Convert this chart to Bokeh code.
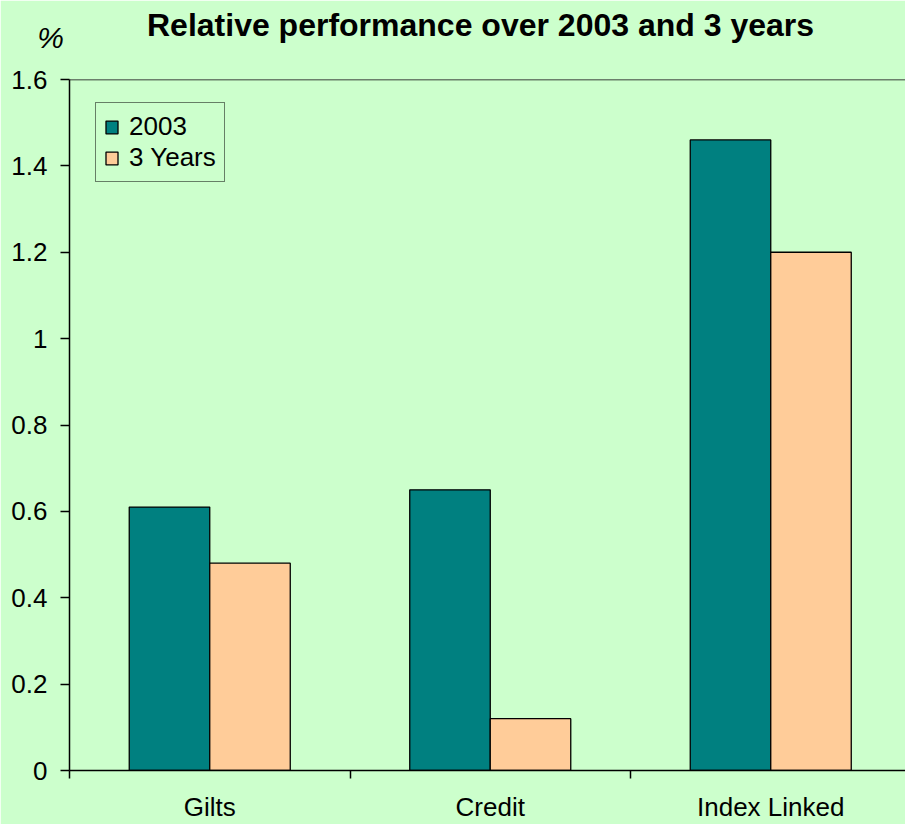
from bokeh.plotting import figure
from bokeh.models import (Range1d, FixedTicker, LinearAxis, Span, Label,
                          Legend, LegendItem, ColumnDataSource)
from bokeh.embed import file_html
from bokeh.resources import INLINE

# Data
categories = ["Gilts", "Credit", "Index Linked"]
perf_2003 = [0.61, 0.65, 1.46]
perf_3yr = [0.48, 0.12, 1.20]
series_names = ["2003", "3 Years"]
y_ticks = [0, 0.2, 0.4, 0.6, 0.8, 1.0, 1.2, 1.4, 1.6]
y_tick_labels = ["0", "0.2", "0.4", "0.6", "0.8", "1", "1.2", "1.4", "1.6"]

BG = "#CCFFCC"
TEAL = "#008080"
PEACH = "#FFCC99"
FONT = "Liberation Sans"

W, H = 905, 824
LEFT, TOP, BOTTOM = 69, 79, 53
cat_px = 280.5
x_end = (W - LEFT) / cat_px
px = 1.6 / (H - TOP - BOTTOM)

p = figure(width=W, height=H, output_backend="svg", toolbar_location=None,
           x_range=Range1d(0, x_end), y_range=Range1d(0, 1.6),
           min_border_left=LEFT, min_border_top=TOP, min_border_bottom=BOTTOM,
           min_border_right=0, background_fill_color=BG,
           border_fill_color=BG, outline_line_color=None)
p.xgrid.visible = False
p.ygrid.visible = False
p.xaxis.visible = False
p.yaxis.visible = False

centers = [i + 0.5 for i in range(len(categories))]
bounds = [float(i) for i in range(len(categories) + 1)]
bw = 0.287
src = ColumnDataSource(dict(
    x1=[c - bw / 2 for c in centers], x2=[c + bw / 2 for c in centers],
    a=perf_2003, b=perf_3yr))
r1 = p.vbar(x="x1", top="a", bottom=0, width=bw, source=src,
            fill_color=TEAL, line_color="black", line_width=1.3)
r2 = p.vbar(x="x2", top="b", bottom=0, width=bw, source=src,
            fill_color=PEACH, line_color="black", line_width=1.3)

# y axis
yax = LinearAxis(ticker=FixedTicker(ticks=y_ticks),
                 major_label_overrides={t: s for t, s in zip(y_ticks, y_tick_labels)},
                 major_tick_out=9, major_tick_in=0, minor_tick_out=0,
                 minor_tick_in=0, major_label_standoff=13,
                 axis_line_color="black", axis_line_width=1.5,
                 major_tick_line_width=1.5,
                 major_label_text_font=FONT,
                 major_label_text_font_size="26px",
                 major_label_text_color="black")
p.add_layout(yax, "left")

# x axis: names under the group centres, tick marks on the group boundaries
xax = LinearAxis(ticker=FixedTicker(ticks=centers, minor_ticks=bounds),
                 major_label_overrides={c: n for c, n in zip(centers, categories)},
                 major_tick_out=0, major_tick_in=0,
                 minor_tick_out=8, minor_tick_in=0,
                 minor_tick_line_color="black", minor_tick_line_width=1.5,
                 axis_line_color="black", axis_line_width=1.5,
                 major_label_standoff=13,
                 major_label_text_font=FONT,
                 major_label_text_font_size="26px",
                 major_label_text_color="black")
p.add_layout(xax, "below")

# top frame line
p.add_layout(Span(location=1.6, dimension="width", line_color="black",
                  line_width=1.5))

# title and unit marker above the plot area
p.add_layout(Label(x=(480 - LEFT) / cat_px, y=1.6 + 55 * px,
                   text="Relative performance over 2003 and 3 years",
                   text_font=FONT, text_font_style="bold",
                   text_font_size="32px", text_align="center",
                   text_baseline="alphabetic", text_color="black"), "above")
p.add_layout(Label(x=(50 - LEFT) / cat_px, y=1.6 + 42 * px,
                   text="%", text_font=FONT, text_font_style="italic",
                   text_font_size="30px", text_align="center",
                   text_baseline="alphabetic", text_color="black"), "above")

legend = Legend(items=[LegendItem(label=series_names[0], renderers=[r1]),
                       LegendItem(label=series_names[1], renderers=[r2])],
                location=(26, 588), background_fill_color=BG,
                background_fill_alpha=1, border_line_color="black",
                border_line_width=1.3, label_text_font=FONT,
                label_text_font_size="26px", label_text_color="black",
                glyph_width=15, glyph_height=16, label_standoff=10,
                spacing=0, padding=8, margin=0)
p.add_layout(legend)

open("out.html", "w").write(file_html(p, INLINE))
